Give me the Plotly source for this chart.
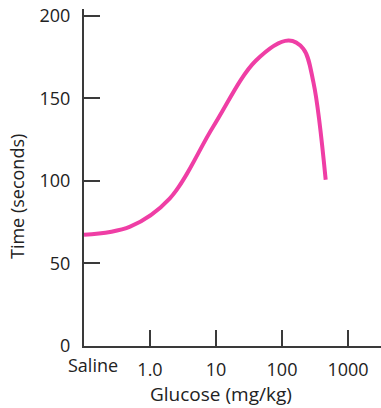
import plotly.graph_objects as go

# Dose-response: latency vs. glucose dose (Saline plotted at 0.1 on the log axis)
glucose_mg_kg = [0.1, 0.5, 2.0, 9.1, 40, 125, 210, 300, 459]
time_seconds = [67.3, 72.3, 89.4, 132.9, 172.7, 185.0, 180.0, 159.4, 100.6]

x_tick_values = [1, 10, 100, 1000]
x_tick_labels = ["1.0", "10", "100", "1000"]
y_tick_values = [0, 50, 100, 150, 200]

FONT = "Open Sans"
AXIS_COLOR = "#3a3a3a"

fig = go.Figure()
fig.add_trace(go.Scatter(
    x=glucose_mg_kg,
    y=time_seconds,
    mode="lines",
    line=dict(color="#ef3ea5", width=4, shape="spline", smoothing=1.0),
    hoverinfo="skip",
))

fig.update_layout(
    width=381,
    height=408,
    margin=dict(l=84, r=0, t=9, b=62),
    paper_bgcolor="white",
    plot_bgcolor="white",
    showlegend=False,
    font=dict(family=FONT, size=18, color="#222"),
    xaxis=dict(
        type="log",
        range=[-1, 3.5],
        tickvals=x_tick_values,
        ticktext=x_tick_labels,
        ticks="inside",
        ticklen=16,
        tickwidth=2,
        tickcolor=AXIS_COLOR,
        showline=True,
        linecolor=AXIS_COLOR,
        linewidth=2,
        showgrid=False,
        zeroline=False,
        ticklabelstandoff=6,
    ),
    yaxis=dict(
        range=[0, 204],
        tickvals=y_tick_values,
        ticks="inside",
        ticklen=16,
        tickwidth=2,
        tickcolor=AXIS_COLOR,
        showline=True,
        linecolor=AXIS_COLOR,
        linewidth=2,
        showgrid=False,
        zeroline=False,
        ticklabelstandoff=8,
    ),
    annotations=[
        dict(text="Saline", xref="paper", yref="paper", x=9 / 297, y=0,
             yanchor="top", xanchor="center", yshift=-5, showarrow=False,
             font=dict(family=FONT, size=18, color="#222")),
        dict(text="Glucose (mg/kg)", xref="paper", yref="paper", x=(221 - 84) / 297, y=0,
             yanchor="middle", xanchor="center", yshift=-48, showarrow=False,
             font=dict(family=FONT, size=19, color="#222")),
        dict(text="Time (seconds)", xref="paper", yref="paper", x=0, y=(346 - 197) / 337,
             xanchor="center", yanchor="middle", xshift=-67, textangle=-90, showarrow=False,
             font=dict(family=FONT, size=18, color="#222")),
    ],
)

fig.write_html("out.html")
